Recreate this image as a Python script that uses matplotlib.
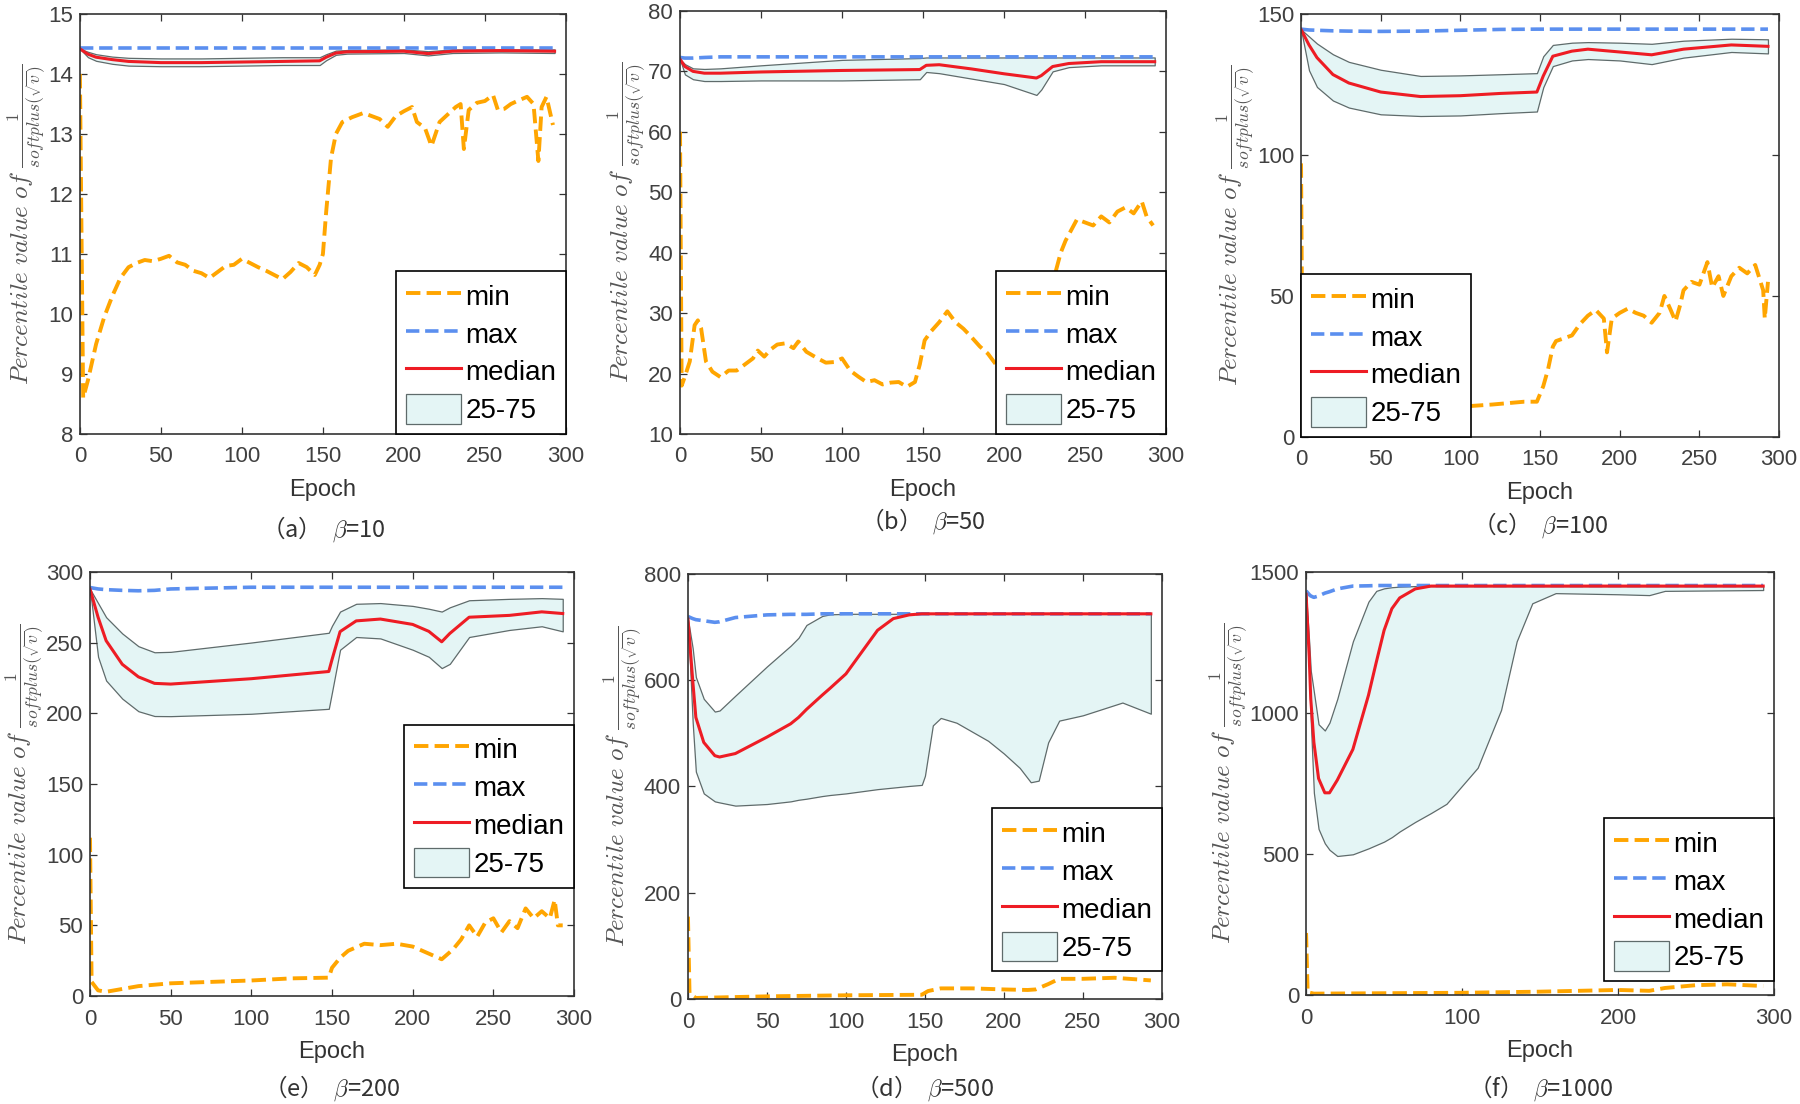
import matplotlib
matplotlib.use("Agg")
import matplotlib.pyplot as plt

plt.rcParams['font.family'] = ['Liberation Sans', 'DejaVu Sans']
plt.rcParams['mathtext.fontset'] = 'cm'

# ---------------- (a) beta = 10 ----------------
a_ep = [0, 5, 10, 20, 30, 50, 75, 100, 125, 148, 152, 158, 165, 200, 215, 230, 260, 293]
a_max = [14.43] * 18
a_med = [14.42, 14.33, 14.28, 14.24, 14.21, 14.19, 14.19, 14.2, 14.21, 14.22, 14.28, 14.35, 14.37, 14.38, 14.34, 14.38, 14.39, 14.38]
a_p75 = [14.42, 14.37, 14.33, 14.29, 14.27, 14.26, 14.26, 14.27, 14.28, 14.28, 14.33, 14.39, 14.4, 14.41, 14.38, 14.41, 14.41, 14.41]
a_p25 = [14.42, 14.28, 14.22, 14.17, 14.14, 14.13, 14.13, 14.14, 14.15, 14.15, 14.23, 14.32, 14.34, 14.35, 14.31, 14.35, 14.36, 14.35]
a_min_ep = [0, 2, 5, 10, 15, 20, 25, 30, 35, 40, 45, 50, 55, 60, 65, 70, 75, 80, 85, 90, 95, 100, 105, 110,
            115, 120, 125, 130, 135, 140, 145, 148, 150, 152, 155, 158, 162, 168, 175, 180, 185, 190, 195,
            200, 205, 208, 213, 217, 222, 228, 232, 235, 237, 240, 245, 250, 255, 258, 262, 266, 270, 276,
            280, 283, 285, 288, 292]
a_min = [14.0, 8.6, 8.9, 9.5, 9.95, 10.3, 10.6, 10.78, 10.85, 10.9, 10.88, 10.92, 10.97, 10.86, 10.82, 10.72,
         10.68, 10.6, 10.7, 10.8, 10.82, 10.92, 10.85, 10.78, 10.72, 10.65, 10.58, 10.7, 10.85, 10.78, 10.65,
         10.82, 11.0, 11.7, 12.6, 13.0, 13.2, 13.28, 13.35, 13.3, 13.25, 13.12, 13.3, 13.38, 13.45, 13.2, 13.1,
         12.8, 13.2, 13.35, 13.45, 13.5, 12.75, 13.4, 13.52, 13.55, 13.65, 13.4, 13.42, 13.5, 13.55, 13.62,
         13.5, 12.55, 13.45, 13.62, 13.15]

# ---------------- (b) beta = 50 ----------------
b_ep = [0, 3, 8, 15, 25, 50, 100, 148, 152, 160, 180, 200, 220, 223, 230, 240, 260, 293]
b_max = [72.3, 72.2, 72.2, 72.3, 72.4, 72.4, 72.4, 72.4, 72.4, 72.4, 72.4, 72.4, 72.4, 72.4, 72.4, 72.4, 72.4, 72.4]
b_med = [72.0, 70.8, 70.0, 69.7, 69.7, 69.9, 70.15, 70.3, 71.0, 71.1, 70.4, 69.6, 68.9, 69.3, 70.8, 71.3, 71.6, 71.6]
b_p75 = [72.0, 71.2, 70.5, 70.4, 70.5, 71.0, 71.9, 72.2, 72.3, 72.3, 72.3, 72.3, 72.3, 72.3, 72.3, 72.3, 72.3, 72.3]
b_p25 = [72.0, 69.5, 68.7, 68.4, 68.4, 68.5, 68.5, 68.7, 69.9, 69.7, 68.8, 67.9, 66.1, 67.0, 70.0, 70.7, 71.0, 71.0]
b_min_ep = [0, 1, 3, 6, 9, 11, 13, 16, 20, 25, 30, 35, 40, 45, 48, 52, 56, 60, 65, 70, 73, 78, 85, 90, 95,
            100, 105, 110, 115, 120, 125, 130, 135, 140, 145, 148, 151, 155, 160, 165, 170, 175, 180, 185,
            190, 195, 200, 210, 220, 228, 232, 235, 238, 241, 245, 250, 255, 260, 265, 270, 275, 280, 285,
            288, 292]
b_min = [60, 18, 19.5, 22, 28, 28.8, 27.5, 22, 20.3, 19.4, 20.5, 20.5, 21.5, 22.5, 23.8, 22.8, 24, 24.8, 25,
         24.2, 25.3, 23.6, 22.5, 21.8, 21.9, 22.5, 20.5, 19.5, 18.6, 18.9, 18.2, 18.5, 18.6, 17.8, 18.6, 21.5,
         25.5, 27, 28.5, 30.3, 28.5, 27.4, 26, 24.5, 23.3, 21.5, 20, 23, 27, 32, 37, 40, 42, 43.5, 45.5, 45,
         44.5, 46, 45, 46.8, 47.5, 46.5, 48.5, 46, 44.5]

# ---------------- (c) beta = 100 ----------------
c_ep = [0, 5, 10, 20, 30, 50, 75, 100, 125, 148, 152, 158, 170, 180, 200, 220, 240, 270, 293]
c_max = [144.6, 144.3, 144.2, 144.0, 143.9, 143.8, 143.9, 144.2, 144.5, 144.6, 144.6, 144.6, 144.6, 144.6, 144.6, 144.6, 144.6, 144.6, 144.6]
c_med = [144.5, 139, 134.5, 128.5, 125.5, 122.3, 120.7, 121, 121.8, 122.3, 128, 135, 136.8, 137.5, 136.5, 135.5, 137.5, 139, 138.5]
c_p75 = [144.5, 142, 139.5, 135.7, 133, 130.2, 128, 128.2, 128.6, 129, 135, 139, 139.8, 140, 139.8, 139.4, 140.5, 141.2, 141]
c_p25 = [144.5, 130, 124.1, 119.3, 116.8, 114.4, 113.8, 114, 114.8, 115.4, 124, 131.5, 133.5, 134, 133.5, 132.2, 134.5, 136.5, 136]
c_min_ep = [0, 1, 5, 20, 50, 80, 107, 120, 140, 148, 152, 155, 158, 160, 165, 170, 175, 180, 185, 190, 192,
            195, 200, 205, 210, 215, 220, 225, 228, 232, 235, 238, 240, 245, 250, 255, 258, 262, 265, 270,
            275, 280, 285, 290, 291, 293]
c_min = [97, 15, 8, 9, 10, 10.5, 11, 11.5, 12.5, 12.5, 18, 24, 32, 34, 35, 36, 40, 43, 45, 42, 30, 42, 44,
         45.5, 44, 43, 40.5, 44, 50, 45, 41, 47, 52, 55, 54, 62, 53, 57, 50, 57, 60, 58, 61, 52, 42, 55]

# ---------------- (e) beta = 200 ----------------
e_ep = [0, 5, 10, 20, 30, 40, 50, 100, 148, 150, 155, 165, 180, 200, 210, 218, 223, 235, 260, 280, 293]
e_max = [289, 288, 287.5, 287, 286.7, 287, 288, 289.2, 289.2, 289.2, 289.2, 289.2, 289.2, 289.2, 289.2, 289.2, 289.2, 289.2, 289.2, 289.2, 289.2]
e_med = [288, 268, 251.4, 234.7, 225.8, 221.2, 220.7, 224.5, 229.6, 238, 257.8, 265.4, 266.7, 262.9, 258, 250.6, 256.5, 268, 269.3, 271.8, 270.6]
e_p75 = [288, 278, 268, 256.5, 247.5, 243.2, 243.5, 250.1, 257, 262, 272, 277.5, 278, 276, 274, 272, 275, 280, 281, 281.5, 281]
e_p25 = [288, 240, 223.2, 210.4, 201.5, 198.1, 198, 199.7, 203.2, 215, 245, 254, 253, 245, 240, 232, 235, 254, 259, 261.6, 258]
e_min_ep = [0, 1, 5, 10, 20, 30, 50, 75, 100, 125, 148, 150, 155, 160, 170, 180, 190, 200, 210, 218, 225,
            230, 235, 240, 245, 250, 255, 260, 265, 270, 275, 280, 285, 288, 290, 293]
e_min = [112, 10, 4, 3, 5, 7, 9, 10, 11, 12.5, 13, 20, 27, 32, 37, 36, 37, 35, 30, 26, 33, 40, 50, 42, 52,
         55, 45, 53, 48, 62, 55, 60, 55, 68, 50, 50]

# ---------------- (d) beta = 500 ----------------
d_ep = [0, 3, 5, 10, 17, 20, 30, 50, 65, 70, 75, 85, 90, 100, 110, 120, 130, 140, 148, 150, 155, 160, 170,
        180, 190, 200, 210, 217, 222, 228, 235, 250, 275, 293]
d_max = [720, 716, 714, 712, 709, 710, 718, 723, 724, 724, 724, 725, 725, 725, 725, 725, 725, 725, 725, 725,
         725, 725, 725, 725, 725, 725, 725, 725, 725, 725, 725, 725, 725, 725]
d_med = [715, 600, 530, 483, 458, 455.5, 462, 493, 518, 530, 545, 572, 585, 612, 653, 694, 716, 723, 725, 725,
         725, 725, 725, 725, 725, 725, 725, 725, 725, 725, 725, 725, 725, 725]
d_p75 = [715, 660, 606, 565, 541, 543, 571, 626, 665, 680, 704, 721, 724, 725, 725, 725, 725, 725, 725, 725,
         725, 725, 725, 725, 725, 725, 725, 725, 725, 725, 725, 725, 725, 725]
d_p25 = [715, 520, 428, 387, 372, 370, 364, 367, 372, 375, 377, 382, 384, 387, 391, 395, 398, 401, 403, 420,
         515, 529, 520, 503, 486, 462, 435, 408, 411, 483, 524, 534, 558, 537]
d_min_ep = [0, 1, 5, 20, 50, 100, 148, 152, 160, 180, 200, 215, 220, 228, 235, 250, 270, 293]
d_min = [155, 10, 2, 3, 5, 7, 8, 15, 20, 20, 18, 17, 18, 28, 38, 38, 40, 35]

# ---------------- (f) beta = 1000 ----------------
f_ep = [0, 2, 3, 5, 8, 12, 15, 20, 30, 40, 45, 50, 55, 60, 70, 80, 90, 110, 125, 135, 145, 160, 200, 220, 230, 293]
f_max = [1433, 1420, 1415, 1410, 1415, 1425, 1430, 1440, 1450, 1451, 1452, 1452, 1452, 1452, 1452, 1452, 1452,
         1452, 1452, 1452, 1452, 1452, 1452, 1452, 1452, 1452]
f_med = [1421, 1200, 1050, 896, 768, 717, 717, 762, 871, 1063, 1180, 1293, 1370, 1408, 1440, 1450, 1450, 1450,
         1450, 1450, 1450, 1450, 1450, 1450, 1450, 1450]
f_p75 = [1421, 1250, 1150, 1075, 960, 938, 966, 1050, 1254, 1395, 1433, 1442, 1446, 1448, 1450, 1450, 1450,
         1450, 1450, 1450, 1450, 1450, 1450, 1450, 1450, 1450]
f_p25 = [1421, 1150, 973, 717, 589, 538, 515, 493, 499, 520, 532, 544, 560, 580, 614, 645, 678, 806, 1011, 1254,
         1389, 1425, 1421, 1418, 1433, 1436]
f_min_ep = [0, 1, 5, 100, 150, 200, 220, 230, 250, 270, 293]
f_min = [220, 10, 5, 8, 12, 18, 15, 25, 35, 38, 32]

panels = [
    ('a', '10', [0.0444, 0.6069, 0.270, 0.3804], a_ep, a_max, a_med, a_p75, a_p25, a_min_ep, a_min,
     (8, 15), list(range(8, 16)), list(range(0, 301, 50)), dict(loc='lower right', bbox_to_anchor=(1, 0)), 0.521),
    ('b', '50', [0.3778, 0.6069, 0.270, 0.3832], b_ep, b_max, b_med, b_p75, b_p25, b_min_ep, b_min,
     (10, 80), list(range(10, 81, 10)), list(range(0, 301, 50)), dict(loc='lower right', bbox_to_anchor=(1, 0)), 0.528),
    ('c', '100', [0.7228, 0.6042, 0.2656, 0.3832], c_ep, c_max, c_med, c_p75, c_p25, c_min_ep, c_min,
     (0, 150), [0, 50, 100, 150], list(range(0, 301, 50)), dict(loc='lower left', bbox_to_anchor=(0, 0)), 0.524),
    ('e', '200', [0.0500, 0.0978, 0.2689, 0.3841], e_ep, e_max, e_med, e_p75, e_p25, e_min_ep, e_min,
     (0, 300), list(range(0, 301, 50)), list(range(0, 301, 50)), dict(loc='upper right', bbox_to_anchor=(1, 0.64)), 0.0145),
    ('d', '500', [0.3822, 0.0951, 0.2633, 0.3850], d_ep, d_max, d_med, d_p75, d_p25, d_min_ep, d_min,
     (0, 800), [0, 200, 400, 600, 800], list(range(0, 301, 50)), dict(loc='lower right', bbox_to_anchor=(1, 0.065)), 0.0145),
    ('f', '1000', [0.7256, 0.0987, 0.2600, 0.3832], f_ep, f_max, f_med, f_p75, f_p25, f_min_ep, f_min,
     (0, 1500), [0, 500, 1000, 1500], [0, 100, 200, 300], dict(loc='lower right', bbox_to_anchor=(1, 0.033)), 0.0145),
]

ORANGE = '#FFA500'
BLUE = '#5B8FEF'
RED = '#EE1C24'
FILL = '#E4F5F5'
EDGE = '#5F6B6B'
TICK = '#404040'

fig = plt.figure(figsize=(18, 11.04), dpi=100)

for (tag, beta, pos, ep, mx, med, p75, p25, min_ep, mn, ylim, yticks, xticks, leg_kw, cap_y) in panels:
    ax = fig.add_axes(pos)
    band = ax.fill_between(ep, p25, p75, facecolor=FILL, edgecolor=EDGE, linewidth=0.9, label='25-75')
    l_max, = ax.plot(ep, mx, '--', color=BLUE, lw=2.6, label='max')
    l_med, = ax.plot(ep, med, '-', color=RED, lw=2.2, label='median')
    l_min, = ax.plot(min_ep, mn, '--', color=ORANGE, lw=2.8, label='min')

    ax.set_xlim(0, 300)
    ax.set_ylim(*ylim)
    ax.set_xticks(xticks)
    ax.set_yticks(yticks)
    ax.tick_params(direction='in', top=True, right=True, length=5, width=0.9,
                   labelsize=16, labelcolor=TICK, color='#333333')
    ax.tick_params(axis='x', pad=9)
    ax.tick_params(axis='y', pad=5)
    for sp in ax.spines.values():
        sp.set_color('#333333')
        sp.set_linewidth(1.2)
    ax.set_xlabel('Epoch', fontsize=17, color='#333333', labelpad=8)
    ax.set_ylabel(r'$Percentile\ value\ of\ \frac{1}{softplus(\sqrt{v})}$', fontsize=18,
                  color='#555555', labelpad=0)

    leg = ax.legend([l_min, l_max, l_med, band], ['min', 'max', 'median', '25-75'],
                    fontsize=20, frameon=True, fancybox=False, framealpha=1, edgecolor='black',
                    borderaxespad=0, handlelength=2.0, handleheight=1.25, handletextpad=0.15,
                    labelspacing=0.28, borderpad=0.35, **leg_kw)
    leg.get_frame().set_linewidth(1.2)

    cx = pos[0] + pos[2] / 2
    fig.text(cx, cap_y, '（' + tag + '）  $\\beta$=' + beta,
             ha='center', va='center', fontsize=17, color='#333333',
             family=['Noto Sans CJK SC', 'DejaVu Sans'])

fig.savefig('out.png', dpi=100)
